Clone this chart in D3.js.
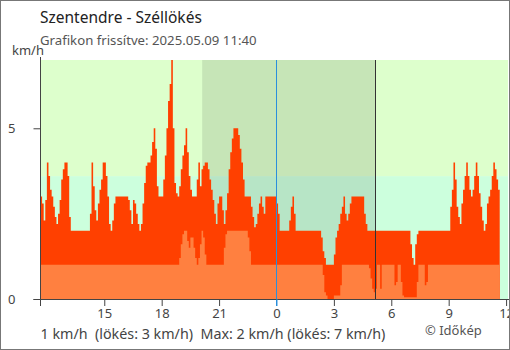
<!DOCTYPE html>
<html><head><meta charset="utf-8">
<script src="https://cdn.jsdelivr.net/npm/d3@7"></script>
<style>body{margin:0;background:#fff}svg{display:block}</style>
</head><body><svg id="c" width="510" height="350"></svg>
<script>
// ---- data ----
const startTime = "2025-05-08T11:40:00";
const endTime = "2025-05-09T11:40:00";
const stepMinutes = 5;
const gust = [
3.0,2.8,2.3,2.9,4.0,3.6,3.2,3.0,2.7,2.4,2.2,2.5,2.9,3.5,3.8,4.0,4.0,3.6,2.4,
2.0,2.0,2.0,2.0,2.0,2.0,2.0,2.0,2.0,2.0,2.0,2.0,
2.5,4.0,3.3,2.6,2.3,2.8,3.2,3.5,4.0,4.0,3.6,3.0,2.2,2.0,2.3,2.8,
3.0,3.0,3.0,3.0,3.0,3.0,3.0,3.0,
2.9,2.6,2.2,2.9,2.8,2.5,2.2,2.0,2.2,2.8,3.4,3.9,4.0,4.0,4.2,4.6,5.0,4.4,3.3,3.0,3.0,3.0,3.5,4.2,5.0,5.8,6.3,7.0,5.0,
3.4,3.1,3.0,3.3,3.8,4.2,4.5,5.0,4.3,3.6,3.2,3.0,3.0,3.0,3.5,4.0,3.3,3.8,3.9,4.0,4.0,3.8,3.5,3.2,2.9,2.5,2.2,2.8,3.0,3.0,
2.6,2.2,2.6,3.1,3.8,4.3,4.7,5.0,5.0,5.0,4.8,4.4,4.0,3.5,3.0,3.0,3.0,3.0,2.7,2.4,2.1,2.2,2.5,2.8,3.0,2.7,2.5,3.0,
3.0,3.0,3.0,3.0,3.0,3.0,
2.8,2.5,
2.0,2.0,2.0,2.0,2.0,2.0,
2.3,2.7,3.0,2.5,
2.0,2.0,2.0,2.0,2.0,2.0,2.0,2.0,2.0,2.0,2.0,2.0,2.0,2.0,2.0,2.0,
1.8,1.4,1.2,
1.0,1.0,1.0,1.0,1.0,
1.3,1.8,2.0,2.2,2.5,2.7,3.0,2.5,2.3,2.5,2.8,
3.0,3.0,3.0,3.0,3.0,3.0,3.0,3.0,
2.5,2.2,
2.0,2.0,2.0,2.0,2.0,2.0,2.0,2.0,2.0,2.0,2.0,2.0,2.0,2.0,2.0,2.0,2.0,2.0,2.0,2.0,2.0,2.0,2.0,2.0,2.0,2.0,2.0,
1.6,1.2,1.0,1.6,1.9,
2.0,2.0,2.0,2.0,2.0,2.0,2.0,2.0,2.0,2.0,2.0,2.0,2.0,2.0,2.0,2.0,2.0,2.0,2.0,2.0,
2.7,3.2,4.0,3.5,2.7,2.4,2.2,2.8,3.2,3.6,4.0,3.6,3.2,3.0,3.2,3.6,4.0,3.6,3.1,2.7,2.3,2.0,2.2,2.8,3.0,3.2,3.6,4.0,3.8,3.5,3.2
];
const wind = [
1.0,1.0,1.0,1.0,1.0,1.0,1.0,1.0,1.0,1.0,1.0,1.0,1.0,1.0,1.0,1.0,1.0,1.0,1.0,1.0,
1.0,1.0,1.0,1.0,1.0,1.0,1.0,1.0,1.0,1.0,1.0,1.0,1.0,1.0,1.0,1.0,1.0,1.0,1.0,1.0,
1.0,1.0,1.0,1.0,1.0,1.0,1.0,1.0,1.0,1.0,1.0,1.0,1.0,1.0,1.0,1.0,1.0,1.0,1.0,1.0,
1.0,1.0,1.0,1.0,1.0,1.0,1.0,1.0,1.0,1.0,1.0,1.0,1.0,1.0,1.0,1.0,1.0,1.0,1.0,1.0,
1.0,1.0,1.0,1.0,1.0,1.0,1.0,
1.2,1.6,1.9,2.0,2.0,1.7,1.5,1.8,1.8,1.5,1.2,1.0,1.2,1.6,2.0,1.8,1.3,
1.0,1.0,1.0,1.0,1.0,1.0,1.0,1.0,1.0,1.0,1.0,
1.5,1.9,
2.0,2.0,2.0,2.0,2.0,2.0,2.0,2.0,2.0,2.0,2.0,2.0,2.0,
1.8,1.4,
1.0,1.0,1.0,1.0,1.0,1.0,1.0,1.0,1.0,1.0,1.0,1.0,1.0,1.0,1.0,1.0,1.0,1.0,1.0,1.0,
1.0,1.0,1.0,1.0,1.0,1.0,1.0,1.0,1.0,1.0,1.0,1.0,1.0,1.0,1.0,1.0,1.0,1.0,1.0,1.0,
1.0,1.0,1.0,1.0,1.0,
0.7,0.2,0.1,
0.0,0.0,0.0,0.0,
0.1,0.1,0.1,0.1,
0.4,
1.0,1.0,1.0,1.0,1.0,1.0,1.0,1.0,1.0,1.0,1.0,1.0,1.0,1.0,1.0,1.0,1.0,
0.9,0.6,0.3,0.2,0.3,
1.0,1.0,
0.3,
1.0,1.0,1.0,1.0,1.0,1.0,1.0,1.0,
0.4,0.5,1.0,1.0,0.5,0.1,
0.05,0.05,0.05,0.05,0.05,0.05,0.05,0.05,
0.5,
1.0,1.0,1.0,1.0,
0.4,0.5,
1.0,1.0,1.0,1.0,1.0,1.0,1.0,1.0,1.0,1.0,1.0,1.0,1.0,1.0,1.0,1.0,1.0,1.0,1.0,1.0,
1.0,1.0,1.0,1.0,1.0,1.0,1.0,1.0,1.0,1.0,1.0,1.0,1.0,1.0,1.0,1.0,1.0,1.0,1.0,1.0,
1.0,1.0,1.0,1.0,1.0
];
const xTickTimes = ["2025-05-08T15:00:00","2025-05-08T18:00:00","2025-05-08T21:00:00","2025-05-09T00:00:00","2025-05-09T03:00:00","2025-05-09T06:00:00","2025-05-09T09:00:00","2025-05-09T12:00:00"];
const xTickLabels = ["15","18","21","0","3","6","9","12"];
const yTicks = [0, 5];
const yMax = 7;
const bandLimits = [0, 3.6, 7];           // 1 m/s = 3.6 km/h
const nightFrom = "2025-05-08T20:07:00";
const sunriseTime = "2025-05-09T05:10:00";
const midnightTime = "2025-05-09T00:00:00";
const domainEnd = "2025-05-09T12:06:00";
const titleText = "Szentendre - Széllökés";
const subtitleText = "Grafikon frissítve: 2025.05.09 11:40";
const footerText = "1 km/h  (lökés: 3 km/h)  Max: 2 km/h (lökés: 7 km/h)";
const creditText = "© Időkép";
const unitText = "km/h";

// ---- chart ----
const svg = d3.select("#c");
const font = "'Noto Sans', 'Open Sans', sans-serif";
const t0 = new Date(startTime);
const times = gust.map((_, i) => new Date(t0.getTime() + i * stepMinutes * 60000));
const rows = times.map((t, i) => ({t, g: gust[i], w: wind[i]}));
rows.push({t: new Date(endTime), g: gust[gust.length - 1], w: wind[wind.length - 1]});

const pL = 40.5, pR = 508, pT = 60, pB = 299;
const x = d3.scaleTime().domain([t0, new Date(domainEnd)]).range([pL, pR]);
const y = d3.scaleLinear().domain([0, yMax]).range([pB, pT]);

// background bands
const bandColors = ["#ccffdd", "#ddffcc"];
svg.selectAll("rect.band").data(d3.pairs(bandLimits)).join("rect")
  .attr("class", "band")
  .attr("x", pL).attr("width", pR - pL)
  .attr("y", d => y(d[1])).attr("height", d => y(d[0]) - y(d[1]))
  .attr("fill", (d, i) => bandColors[i]);

// night shading
svg.append("rect")
  .attr("x", x(new Date(nightFrom))).attr("width", x(new Date(sunriseTime)) - x(new Date(nightFrom)))
  .attr("y", pT).attr("height", pB - pT)
  .attr("fill", "rgba(0,0,0,0.1)");

// series
const gustArea = d3.area().curve(d3.curveStepAfter).x(d => x(d.t)).y0(y(0)).y1(d => y(d.g));
const windArea = d3.area().curve(d3.curveStepAfter).x(d => x(d.t)).y0(y(0)).y1(d => y(d.w));
svg.append("path").datum(rows).attr("d", gustArea).attr("fill", "#ff4000");
svg.append("path").datum(rows).attr("d", windArea).attr("fill", "#ff8040");

// vertical markers
const xm = Math.round(x(new Date(midnightTime))) + 0.5;
svg.append("line").attr("x1", xm).attr("x2", xm).attr("y1", pT).attr("y2", pB + 7)
  .attr("stroke", "#2a8fdc").attr("stroke-width", 1);
const xs = Math.round(x(new Date(sunriseTime))) + 0.5;
svg.append("line").attr("x1", xs).attr("x2", xs).attr("y1", pT).attr("y2", pB)
  .attr("stroke", "#333").attr("stroke-width", 1);

// x axis
const xAxis = d3.axisBottom(x)
  .tickValues(xTickTimes.map(s => new Date(s)))
  .tickFormat((d, i) => xTickLabels[i])
  .tickSize(7).tickSizeOuter(0);
const gx = svg.append("g").attr("transform", `translate(0,${pB})`).call(xAxis);
gx.select(".domain").attr("stroke", "#444").attr("d", `M${pL - 7},0.5H${pR + 2}`);
gx.selectAll(".tick line").attr("stroke", "#444");
gx.selectAll(".tick").filter((d, i) => xTickLabels[i] === "0").select("line").attr("stroke", "#2a8fdc");
gx.selectAll(".tick text").attr("font-family", font).attr("font-size", 13).attr("fill", "#444");

// y axis
const yAxis = d3.axisLeft(y).tickValues(yTicks).tickFormat(d3.format("d")).tickSize(7).tickSizeOuter(0).tickPadding(18);
const gy = svg.append("g").attr("transform", `translate(${pL},0)`).call(yAxis);
gy.select(".domain").attr("stroke", "#444").attr("d", `M0,${pT - 3}V${pB + 7}`);
gy.selectAll(".tick line").attr("stroke", "#444");
gy.selectAll(".tick text").attr("font-family", font).attr("font-size", 13).attr("fill", "#444");

// texts
svg.append("text").attr("x", 40).attr("y", 23).text(titleText)
  .attr("font-family", font).attr("font-size", 15.5).attr("fill", "#222");
svg.append("text").attr("x", 40).attr("y", 44.5).text(subtitleText)
  .attr("font-family", font).attr("font-size", 13.2).attr("fill", "#555");
svg.append("text").attr("x", 12).attr("y", 55).text(unitText)
  .attr("font-family", font).attr("font-size", 13).attr("fill", "#444");
svg.append("text").attr("x", 40.5).attr("y", 339).text(footerText)
  .style("white-space", "pre")
  .attr("font-family", font).attr("font-size", 14.3).attr("fill", "#444");
svg.append("text").attr("x", 425).attr("y", 335).text(creditText)
  .attr("font-family", font).attr("font-size", 13).attr("fill", "#555");

// frame
svg.append("rect").attr("x", 0.5).attr("y", 0.5).attr("width", 509).attr("height", 349)
  .attr("fill", "none").attr("stroke", "#777");
</script></body></html>
